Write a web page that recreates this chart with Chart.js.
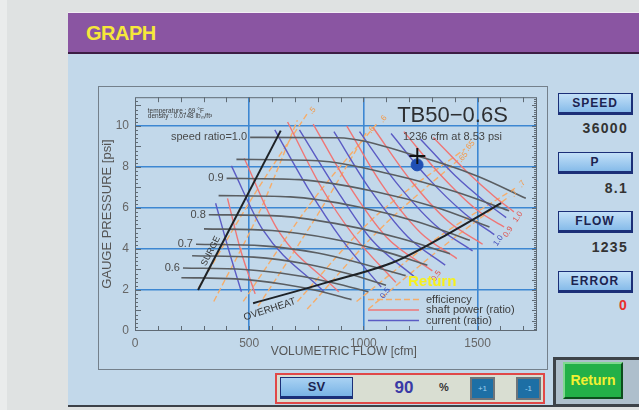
<!DOCTYPE html>
<html>
<head>
<meta charset="utf-8">
<script src="https://cdn.jsdelivr.net/npm/chart.js@4.4.0/dist/chart.umd.min.js"></script>
<style>
  body { margin: 0; width: 639px; height: 410px; background: #dfe2e2; overflow: hidden; position: relative; font-family: 'Liberation Sans', Arial, sans-serif; }
  .strip { position: absolute; left: 0; top: 0; width: 7px; height: 410px; background: #eaecec; }
  .panel { position: absolute; left: 68px; top: 12px; width: 580px; height: 394px; background: #c2d8ea; border-top: 1px solid #f2ecf4; }
  .bottomline { position: absolute; left: 68px; top: 405px; width: 580px; height: 2px; background: #3c4148; }
  .head { position: absolute; left: 0; top: 0; width: 100%; height: 39px; background: #8a55a2; border-bottom: 2px solid #3b1d44; }
  .head span { position: absolute; left: 18px; top: 9px; color: #f6e83a; font: bold 20px 'Liberation Sans', Arial; letter-spacing: -0.5px; }
  .frame { position: absolute; left: 98px; top: 86px; width: 448px; height: 282px; border: 1px solid #74808b; }
  #graph { position: absolute; left: 98px; top: 84px; }
  .btn { position: absolute; left: 558px; width: 75px; height: 22px; box-sizing: border-box; background: linear-gradient(#c3e0f8, #86bbe9); border: 1px solid #1b2f78; border-right-width: 2px; border-bottom-width: 3px; text-align: center; font: bold 12px 'Liberation Sans', Arial; letter-spacing: 1px; color: #1c2350; line-height: 18px; }
  .val { position: absolute; right: 11px; font: bold 14px 'Liberation Sans', Arial; letter-spacing: 1.3px; color: #333; }
  .ret-frame { position: absolute; left: 553px; top: 357px; width: 90px; height: 50px; box-sizing: border-box; background: #aebfcc; border: 3px solid #3d4349; border-right: none; }
  .ret { position: absolute; left: 563px; top: 362px; width: 60px; height: 37px; box-sizing: border-box; background: #23b048; border: 2px solid #7fd88f; border-right-color: #0d4e1d; border-bottom-color: #0d4e1d; text-align: center; font: bold 14px 'Liberation Sans', Arial; color: #f2f032; line-height: 33px; }
  .sv-box { position: absolute; left: 275px; top: 373px; width: 270px; height: 31px; box-sizing: border-box; background: #d9ded2; border: 2px solid #e04848; }
  .sv { position: absolute; left: 280px; top: 377px; width: 73px; height: 22px; box-sizing: border-box; background: linear-gradient(#a9d2f3, #79b3e5); border: 1px solid #1b2f78; border-bottom-width: 3px; text-align: center; font: bold 13px 'Liberation Sans', Arial; color: #1c2350; line-height: 18px; }
  .sv-val { position: absolute; left: 384px; top: 378px; width: 40px; text-align: center; font: bold 17px 'Liberation Sans', Arial; color: #3a3aa6; }
  .pct { position: absolute; left: 439px; top: 381px; font: bold 11px 'Liberation Sans', Arial; color: #333; }
  .step { position: absolute; top: 377px; width: 25px; height: 23px; box-sizing: border-box; background: #1d6fa5; border: 2px solid #6f7479; text-align: center; font: 8px 'Liberation Sans', Arial; color: #9fd0f0; line-height: 19px; }
  .ret-over { position: absolute; left: 408px; top: 272px; font: bold 15px 'Liberation Sans', Arial; color: #f6f01a; }
</style>
</head>
<body>
<div class="strip"></div>
<div class="panel"><div class="head"><span>GRAPH</span></div></div>
<div class="bottomline"></div>
<div class="frame"></div>
<canvas id="graph" width="449" height="285"></canvas>
<div class="ret-over">Return</div>

<div class="btn" style="top:93px">SPEED</div>
<div class="val" style="top:120px">36000</div>
<div class="btn" style="top:152px">P</div>
<div class="val" style="top:180px">8.1</div>
<div class="btn" style="top:211px">FLOW</div>
<div class="val" style="top:239px">1235</div>
<div class="btn" style="top:271px">ERROR</div>
<div class="val" style="top:297px;color:#e8302c">0</div>

<div class="ret-frame"></div>
<div class="ret">Return</div>

<div class="sv-box"></div>
<div class="sv">SV</div>
<div class="sv-val">90</div>
<div class="pct">%</div>
<div class="step" style="left:470px">+1</div>
<div class="step" style="left:516px">-1</div>

<script>
// ─── axis ranges / ticks ─────────────────────────────────────────────
var xMax = 1760, yMax = 11.4;
var flowTicks = [0, 500, 1000, 1500];
var pressTicks = [0, 2, 4, 6, 8, 10];

// ─── speed lines (cfm, psi) ──────────────────────────────────────────
var speedLabels = ['speed ratio=1.0', '', '0.9', '', '0.8', '', '0.7', '', '0.6', ''];
var speedLines = [
  [[504, 9.44], [884, 9.42], [1236, 8.53], [1500, 7.55], [1711, 6.47]],
  [[444, 8.37], [800, 8.3], [1130, 7.62], [1400, 6.8], [1638, 5.86]],
  [[401, 7.44], [720, 7.38], [1050, 6.8], [1320, 6.02], [1552, 5.07]],
  [[366, 6.6], [680, 6.54], [980, 6.05], [1240, 5.32], [1466, 4.42]],
  [[323, 5.67], [640, 5.6], [920, 5.15], [1160, 4.52], [1379, 3.77]],
  [[302, 4.98], [600, 4.9], [860, 4.5], [1080, 3.92], [1280, 3.21]],
  [[267, 4.23], [560, 4.15], [800, 3.8], [1000, 3.27], [1185, 2.7]],
  [[250, 3.67], [520, 3.6], [750, 3.27], [930, 2.8], [1099, 2.23]],
  [[210, 3.07], [480, 3.0], [700, 2.72], [870, 2.34], [1022, 1.91]],
  [[203, 2.6], [440, 2.54], [650, 2.28], [810, 1.94], [948, 1.53]]
];

// ─── current (ratio) lines ───────────────────────────────────────────
var currentLines = [
  [[353, 6.23], [409, 4.0], [466, 1.91]],
  [[422, 8.05], [560, 4.93], [828, 1.91]],
  [[612, 9.81], [754, 7.02], [905, 4.47], [1078, 2.14]],
  [[720, 9.81], [875, 7.02], [1034, 4.47], [1228, 2.6]],
  [[871, 9.72], [1022, 7.02], [1194, 4.6], [1358, 3.21]],
  [[983, 9.72], [1142, 7.26], [1315, 5.16], [1478, 3.91]],
  [[1121, 9.63], [1280, 7.49], [1444, 5.72], [1573, 4.7]],
  [[1250, 9.35], [1401, 7.58], [1530, 6.33], [1625, 5.53]]
];
var currentTags = ['', '', '0.5', '', '', '', '1.0', ''];

// ─── shaft power (ratio) lines ───────────────────────────────────────
var powerLines = [
  [[405, 6.47], [461, 4.0], [526, 1.81]],
  [[478, 8.42], [625, 4.93], [892, 1.91]],
  [[668, 10.19], [810, 7.12], [961, 4.6], [1142, 2.37]],
  [[780, 10.09], [935, 7.12], [1099, 4.6], [1302, 2.93]],
  [[927, 10.0], [1082, 7.12], [1250, 4.79], [1409, 3.53]],
  [[1043, 9.91], [1203, 7.4], [1371, 5.35], [1522, 4.23]],
  [[1177, 9.72], [1336, 7.63], [1496, 5.91], [1616, 5.07]],
  [[1306, 9.44], [1453, 7.77], [1573, 6.56], [1659, 5.81]]
];
var powerTags = ['', '', '', '0.5', '', '', '0.9', '1.0'];

// ─── efficiency lines ────────────────────────────────────────────────
var effLines = [
  [[280, 2.14], [517, 6.56], [754, 10.6]],
  [[345, 1.44], [547, 5.86], [711, 10.28]],
  [[474, 1.44], [776, 6.33], [1065, 10.19]],
  [[539, 1.21], [797, 5.63], [1013, 9.67]],
  [[711, 1.44], [1034, 5.4], [1444, 8.88]],
  [[754, 1.07], [1069, 4.93], [1414, 8.33]],
  [[970, 1.44], [1315, 4.47], [1672, 7.02]],
  [[1022, 1.07], [1336, 4.0], [1638, 6.56]]
];
var effTags = ['.5', '', '.6', '.6', '.65', '.65', '.7', '.7'];

// ─── limits and operating point ──────────────────────────────────────
var surgeLine = [[276, 2.0], [638, 9.77]];
var overheatLine = [[517, 1.35], [841, 2.37], [1142, 3.4], [1379, 4.79], [1603, 6.23]];
var designPoint = [1236, 8.53];
var livePoint = [1235, 8.1];

function pts(arr) { return arr.map(function(p) { return { x: p[0], y: p[1] }; }); }
function curve(arr, color, width, dash, order) {
  return { data: pts(arr), borderColor: color, borderWidth: width, borderDash: dash || [], pointRadius: 0,
           tension: 0.4, cubicInterpolationMode: 'monotone', fill: false, order: order };
}

var blue = '#5b5bc4', red = '#ef7676', orange = '#f6ad6a';
var datasets = [];
speedLines.forEach(function(l) { datasets.push(curve(l, '#5a5e62', 1.6, null, 3)); });
currentLines.forEach(function(l) { datasets.push(curve(l, blue, 1.4, null, 4)); });
powerLines.forEach(function(l) { datasets.push(curve(l, red, 1.4, null, 5)); });
effLines.forEach(function(l) { datasets.push(curve(l, orange, 1.4, [6, 3], 6)); });
datasets.push({ data: pts(surgeLine), borderColor: '#1e2226', borderWidth: 2, pointRadius: 0, order: 2 });
datasets.push(curve(overheatLine, '#1e2226', 2, null, 2));
datasets.push({ data: pts([livePoint]), showLine: false, pointRadius: 6, pointBackgroundColor: '#2050b4', pointBorderColor: '#2050b4', order: 1 });
datasets.push({ data: pts([designPoint]), showLine: false, pointStyle: 'cross', pointRadius: 8, pointBorderWidth: 2, pointBorderColor: '#111', order: 0 });

// ── text notes in data coords ─────────────────────────────────────────
var notes = [
  { t: 'temperature : 69 \u00b0F', x: 56, y: 10.74, s: 6.5, a: 'left' },
  { t: 'density : 0.0748 lb\u2098/ft\u00b3', x: 56, y: 10.47, s: 6.5, a: 'left' },
  { t: 'TB50\u22120.6S', x: 1390, y: 10.5, s: 22, a: 'center', c: '#2e3033' },
  { t: '1236 cfm at 8.53 psi', x: 1390, y: 9.46, s: 11, a: 'center', c: '#444' },
  { t: 'VOLUMETRIC FLOW [cfm]', x: 914, y: -1.0, s: 12, a: 'center', c: '#555' }
];

var textPlugin = {
  id: 'mapText',
  afterDatasetsDraw: function(chart) {
    var ctx = chart.ctx, x = chart.scales.x, y = chart.scales.y;
    ctx.save();
    ctx.textBaseline = 'middle';
    notes.forEach(function(n) {
      ctx.font = n.s + 'px "Liberation Sans", Arial';
      ctx.fillStyle = n.c || '#3a3a3a';
      ctx.textAlign = n.a;
      ctx.fillText(n.t, x.getPixelForValue(n.x), y.getPixelForValue(n.y));
    });
    // speed ratio labels sit just left of each line start
    ctx.font = '11px "Liberation Sans", Arial';
    ctx.fillStyle = '#4a4a4a';
    ctx.textAlign = 'right';
    speedLines.forEach(function(l, i) {
      if (!speedLabels[i]) return;
      ctx.fillText(speedLabels[i], x.getPixelForValue(l[0][0]) - 3, y.getPixelForValue(l[0][1]));
    });
    function rot(t, px, py, ang, size, col) {
      ctx.save();
      ctx.translate(px, py);
      ctx.rotate(ang * Math.PI / 180);
      ctx.font = size + 'px "Liberation Sans", Arial';
      ctx.textAlign = 'center';
      ctx.fillStyle = col || '#333';
      ctx.fillText(t, 0, 0);
      ctx.restore();
    }
    rot('SURGE', x.getPixelForValue(332), y.getPixelForValue(3.9), -63, 9);
    rot('OVERHEAT', x.getPixelForValue(590), y.getPixelForValue(1.05), -18, 10);
    // tags at line ends
    function tagEnds(lines, tags, col, dx, dy, ang) {
      lines.forEach(function(l, i) {
        if (!tags[i]) return;
        var p = l[l.length - 1];
        rot(tags[i], x.getPixelForValue(p[0]) + dx, y.getPixelForValue(p[1]) + dy, ang, 8, col);
      });
    }
    tagEnds(currentLines, currentTags, '#3f49b8', 4, 6, -55);
    tagEnds(powerLines, powerTags, '#e2504a', 4, 5, -55);
    tagEnds(effLines, effTags, '#f39a4a', 5, -3, -50);
    // legend box (bottom right)
    var legend = [['efficiency', orange, [6, 3]], ['shaft power (ratio)', red, []], ['current (ratio)', blue, []]];
    var lx = x.getPixelForValue(1020), ly = y.getPixelForValue(1.53);
    ctx.font = '11px "Liberation Sans", Arial';
    ctx.textAlign = 'left';
    legend.forEach(function(e, i) {
      var yy = ly + i * 10.5;
      ctx.strokeStyle = e[1]; ctx.lineWidth = 1.5; ctx.setLineDash(e[2]);
      ctx.beginPath(); ctx.moveTo(lx, yy); ctx.lineTo(lx + 51, yy); ctx.stroke();
      ctx.fillStyle = '#3c3c3c';
      ctx.fillText(e[0], lx + 58, yy);
    });
    ctx.setLineDash([]);
    ctx.restore();
  }
};

var boxPlugin = {
  id: 'boxTicks',
  afterDraw: function(chart) {
    var ctx = chart.ctx, a = chart.chartArea, x = chart.scales.x, y = chart.scales.y;
    ctx.save();
    ctx.strokeStyle = '#5f6a74';
    ctx.lineWidth = 1;
    ctx.strokeRect(a.left + 0.5, a.top + 0.5, a.right - a.left - 1, a.bottom - a.top - 1);
    ctx.beginPath();
    for (var v = 100; v < xMax; v += 100) {
      var px = Math.round(x.getPixelForValue(v)) + 0.5;
      ctx.moveTo(px, a.bottom); ctx.lineTo(px, a.bottom - 5);
      ctx.moveTo(px, a.top); ctx.lineTo(px, a.top + 5);
    }
    for (var i = 1; i < yMax * 5; i++) {
      var py = Math.round(y.getPixelForValue(i / 5)) + 0.5;
      ctx.moveTo(a.left, py); ctx.lineTo(a.left + (i % 5 === 0 ? 6 : 3), py);
    }
    for (var j = 1; j < yMax * 10; j++) {
      var qy = Math.round(y.getPixelForValue(j / 10)) + 0.5;
      ctx.moveTo(a.right, qy); ctx.lineTo(a.right - (j % 5 === 0 ? 5 : 3), qy);
    }
    ctx.stroke();
    ctx.restore();
  }
};

function gridColor(ctx) { return ctx.tick && ctx.tick.value > 0 ? '#3d87d2' : 'rgba(0,0,0,0)'; }

new Chart(document.getElementById('graph'), {
  type: 'line',
  data: { datasets: datasets },
  options: {
    responsive: false,
    animation: false,
    devicePixelRatio: 1,
    layout: { padding: { top: 2, right: 4, left: 0, bottom: 0 } },
    plugins: { legend: { display: false }, tooltip: { enabled: false } },
    scales: {
      x: {
        type: 'linear', min: 0, max: xMax,
        afterBuildTicks: function(s) { s.ticks = flowTicks.map(function(v) { return { value: v }; }); },
        afterFit: function(s) { s.height = 38; },
        grid: { color: gridColor, lineWidth: 1.6, drawTicks: false },
        border: { display: false },
        ticks: { padding: 5, color: '#666', font: { family: 'Liberation Sans', size: 12 }, maxRotation: 0,
                 callback: function(v) { return String(v); } }
      },
      y: {
        type: 'linear', min: 0, max: yMax,
        afterBuildTicks: function(s) { s.ticks = pressTicks.map(function(v) { return { value: v }; }); },
        afterFit: function(s) { s.width = 37; },
        grid: { color: gridColor, lineWidth: 1.6, drawTicks: false },
        border: { display: false },
        ticks: { padding: 6, color: '#666', font: { family: 'Liberation Sans', size: 12 } },
        title: { display: true, text: 'GAUGE PRESSURE [psi]', color: '#555', font: { family: 'Liberation Sans', size: 13 }, padding: { top: 2, bottom: 0 } }
      }
    }
  },
  plugins: [textPlugin, boxPlugin]
});
</script>
</body>
</html>
